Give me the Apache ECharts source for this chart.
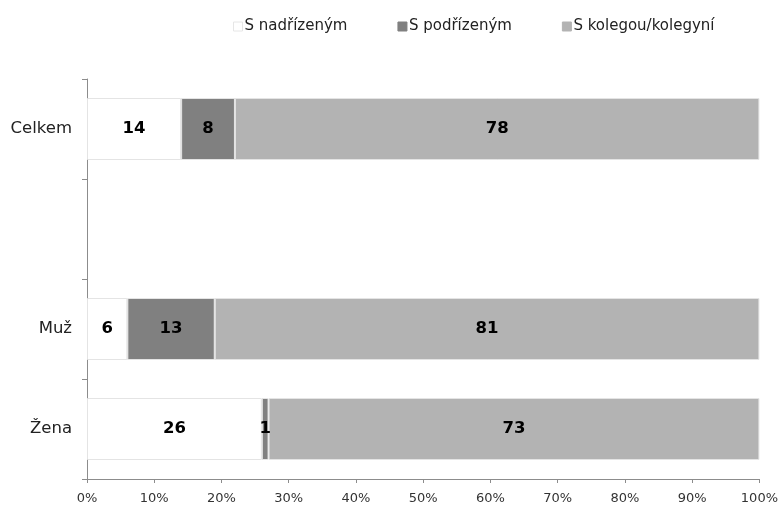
<!DOCTYPE html>
<html><head><meta charset="utf-8">
<script src="https://cdn.jsdelivr.net/npm/echarts@6/dist/echarts.min.js"></script>
<style>html,body{margin:0;padding:0;background:#fff}#c{width:781px;height:505px}</style>
</head><body><div id="c"></div>
<script>
const categories = ['Celkem', '', 'Muž', 'Žena'];
const seriesNames = ['S nadřízeným', 'S podřízeným', 'S kolegou/kolegyní'];
const nadrizenym = [14, null, 6, 26];
const podrizenym = [8, null, 13, 1];
const kolegou = [78, null, 81, 73];
const xTicks = [0, 10, 20, 30, 40, 50, 60, 70, 80, 90, 100];

const colors = ['#ffffff', '#808080', '#b3b3b3'];
const font = "'DejaVu Sans', Verdana, sans-serif";
const chart = echarts.init(document.getElementById('c'));
const mk = (name, data, color) => ({
  name, type: 'bar', stack: 'all', data, barWidth: '62%',
  itemStyle: { color, borderColor: '#e4e4e4', borderWidth: 1 },
  label: { show: true, position: 'inside', color: '#000', fontWeight: 'bold', fontSize: 16.5, fontFamily: font,
    formatter: p => p.value == null ? '' : p.value },
  emphasis: { disabled: true }
});
chart.setOption({
  animation: false,
  textStyle: { fontFamily: font },
  legend: {
    top: 14, left: 228, itemGap: 50, itemWidth: 9, itemHeight: 9,
    icon: 'rect',
    textStyle: { fontSize: 15, color: '#222', fontFamily: font, padding: [0, 0, 0, -3] },
    data: seriesNames.map((n, i) => ({ name: n, itemStyle: { color: i === 0 ? '#ffffff' : colors[i], borderColor: i === 0 ? '#e6e6e6' : colors[i], borderWidth: 1 } }))
  },
  grid: { left: 87, right: 21, top: 79, bottom: 26, containLabel: false },
  xAxis: {
    type: 'value', min: 0, max: 100, interval: 10,
    axisLine: { show: true, lineStyle: { color: '#8c8c8c' } },
    axisTick: { show: true, length: 4, lineStyle: { color: '#8c8c8c' } },
    splitLine: { show: false },
    axisLabel: { color: '#333', fontSize: 13, fontFamily: font, margin: 13,
      formatter: v => xTicks.includes(v) ? v + '%' : '' }
  },
  yAxis: {
    type: 'category', data: categories, inverse: true,
    axisLine: { show: true, lineStyle: { color: '#8c8c8c' } },
    axisTick: { show: true, length: 5, lineStyle: { color: '#8c8c8c' } },
    axisLabel: { color: '#222', fontSize: 16.5, fontFamily: font, margin: 15 }
  },
  series: [
    mk(seriesNames[0], nadrizenym, colors[0]),
    mk(seriesNames[1], podrizenym, colors[1]),
    mk(seriesNames[2], kolegou, colors[2])
  ]
});
</script></body></html>
